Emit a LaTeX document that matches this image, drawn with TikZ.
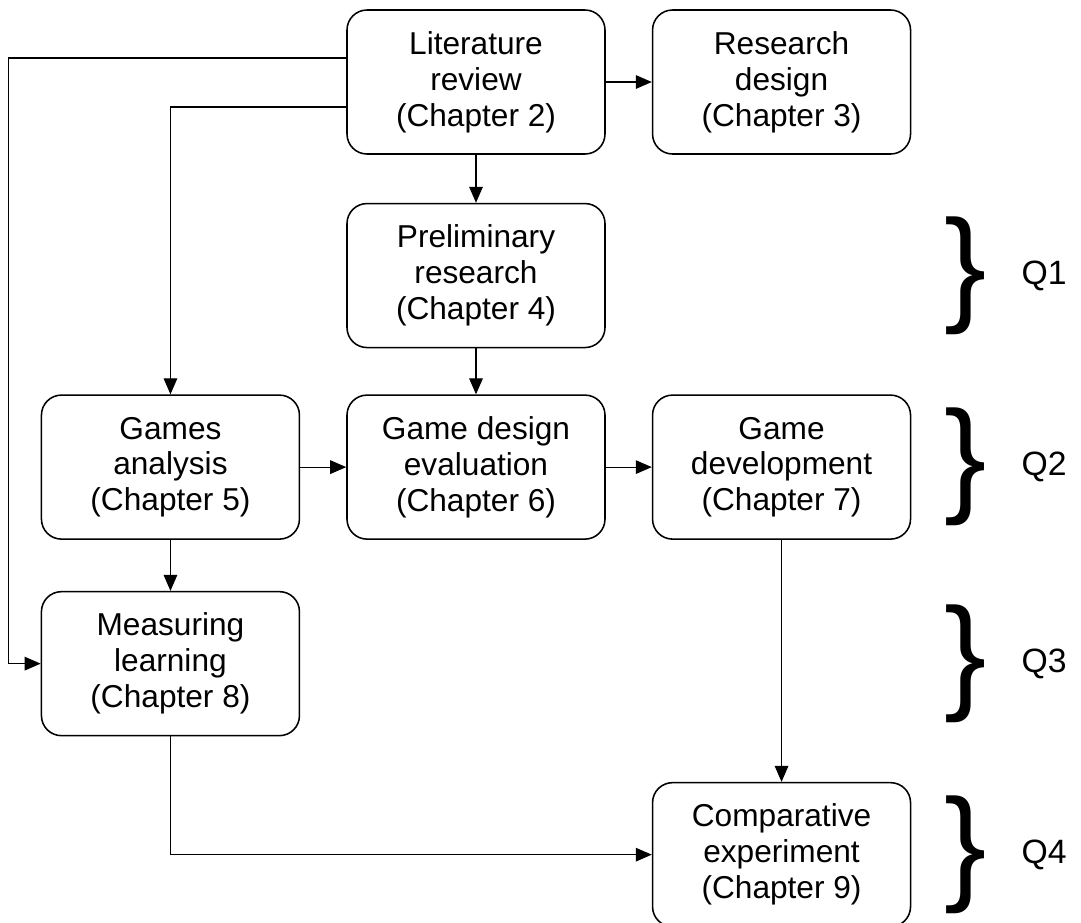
\documentclass[tikz,border=0pt]{standalone}
\usepackage{fontspec}
\setmainfont{Liberation Sans}
\usetikzlibrary{positioning, calc, arrows.meta}

\tikzset{
	chap/.style={draw, rounded corners=0.5cm, line width=1.1pt, minimum width=6.45cm, minimum height=3.6cm, inner sep=0pt, align=center, font=\fontsize{22.5}{25.5}\selectfont},
	link/.style={-{Triangle[length=4mm,width=3.4mm]}, line width=0.8pt},
	qbrace/.style={inner sep=0pt, font=\fontsize{90}{90}\selectfont},
	qlabel/.style={inner sep=0pt, font=\fontsize{24}{24}\selectfont}
}

\begin{document}
\begin{tikzpicture}[node distance=1.2cm and 1.15cm]
	\useasboundingbox (0,0) rectangle (27.025,-23.05);
	\node[chap] (lit) at (11.9,-2.05) {Literature\\review\\(Chapter 2)};
	\node[chap, right =of lit] (resdes) {Research\\design\\(Chapter 3)};
	\node[chap, below =of lit] (prelim) {Preliminary\\research\\(Chapter 4)};
	\node[chap, below =1.15cm of prelim] (gde) {Game design\\evaluation\\(Chapter 6)};
	\node[chap, left =of gde] (games) {Games\\analysis\\(Chapter 5)};
	\node[chap, right =of gde] (gdev) {Game\\development\\(Chapter 7)};
	\node[chap, below =1.275cm of games] (meas) {Measuring\\learning\\(Chapter 8)};
	\node[chap, below =6.05cm of gdev] (comp) {Comparative\\experiment\\(Chapter 9)};
	\coordinate (qcol) at (24.15,0);
	\coordinate (qtext) at (26.1,0);
	\foreach \row/\n in {prelim/1, gdev/2, meas/3, comp/4} {
		\node[qbrace] (brace\n) at (\row -| qcol) {\}};
		\node[qlabel] (q\n) at (\row -| qtext) {Q\n};
	}
	\foreach \from/\to in {lit/prelim, prelim/gde, games/gde, gde/gdev, games/meas, gdev/comp}
		\draw[link] (\from) -- (\to);
	\draw[link] (lit.east) -- (resdes.west);
	\draw[link] ($(lit.west)+(0,0.6)$) -| ($(meas.west)+(-0.8,0)$) -- (meas.west);
	\draw[link] ($(lit.west)+(0,-0.625)$) -| (games.north);
	\draw[link] (meas.south) |- (comp.west);
\end{tikzpicture}
\end{document}
